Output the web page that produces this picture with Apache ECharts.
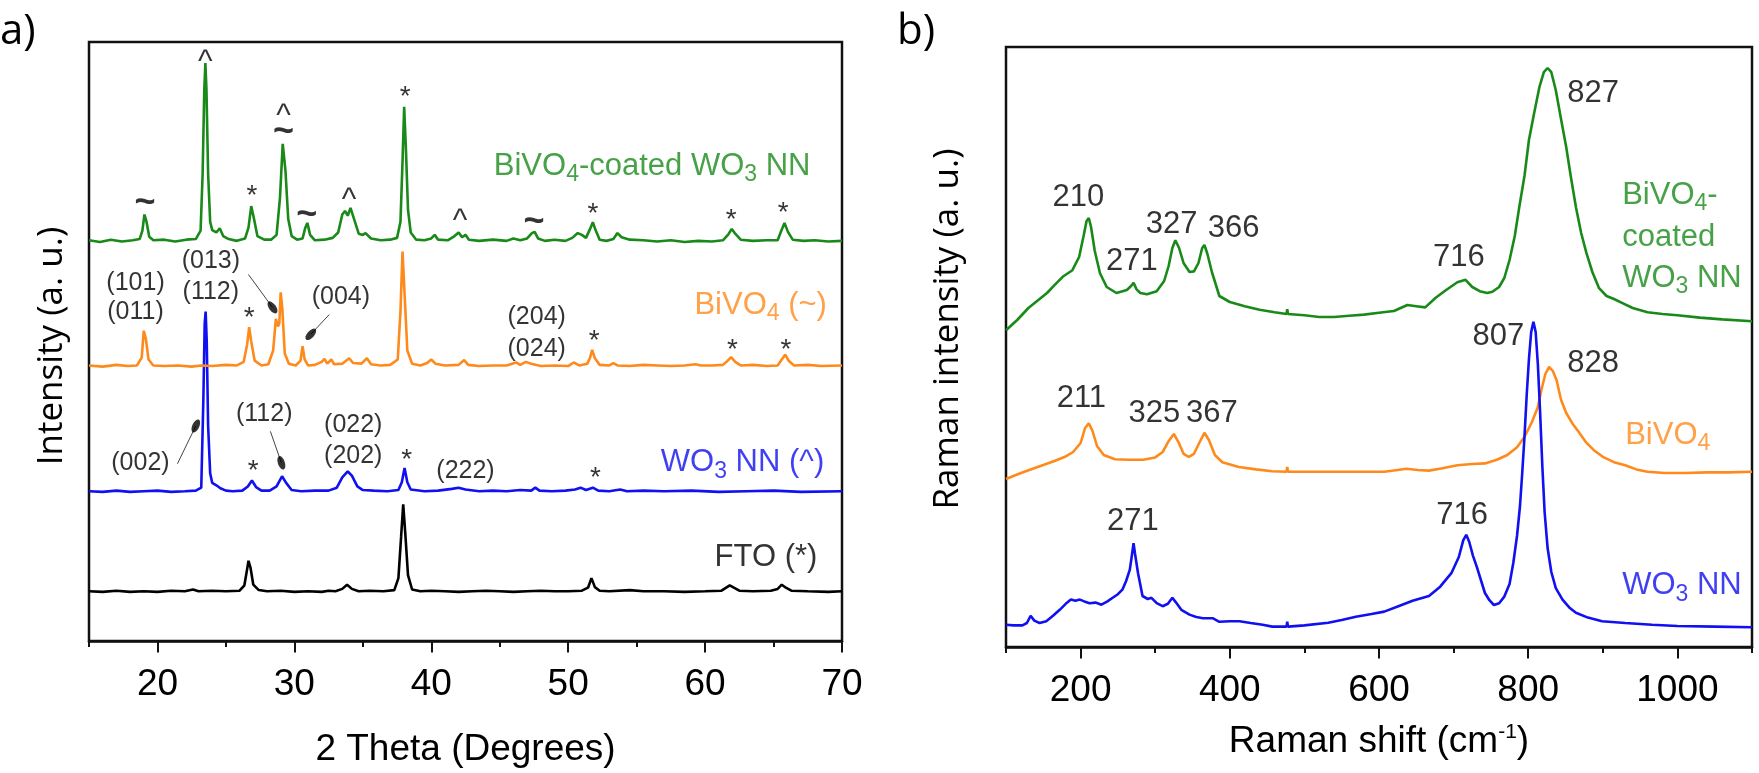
<!DOCTYPE html>
<html>
<head>
<meta charset="utf-8">
<script src="https://cdn.jsdelivr.net/npm/echarts@6/dist/echarts.min.js"></script>
<style>
html, body { margin: 0; padding: 0; background: #fff; }
#main { width: 1759px; height: 773px; }
</style>
</head>
<body>
<div id="main"></div>
<script>
// a) DRX : intensité (u. a.) décalée verticalement, une courbe par échantillon
var xrdCoated = [[15.0,66.9],[15.8,66.6],[16.6,67.0],[17.4,66.7],[18.2,66.9],[18.7,67.1],[18.9,68.5],[19.05,71.2],[19.2,70.0],[19.4,67.5],[19.7,66.9],[20.5,67.0],[21.3,66.7],[22.1,67.0],[22.8,67.1],[23.15,68.5],[23.3,78],[23.42,92],[23.5,96.5],[23.58,92],[23.7,78],[23.85,70],[24.0,68.6],[24.3,68.2],[24.55,68.9],[24.8,67.6],[25.2,67.1],[25.8,66.8],[26.4,67.2],[26.65,69.0],[26.85,72.6],[27.05,70.5],[27.3,67.6],[27.8,67.0],[28.3,67.0],[28.7,67.8],[28.95,74],[29.15,83.0],[29.35,78.5],[29.55,70.5],[29.8,67.6],[30.2,67.0],[30.6,67.2],[30.8,69.0],[30.95,69.8],[31.15,67.8],[31.5,66.9],[32.2,67.0],[32.8,67.3],[33.2,68.2],[33.5,71.2],[33.7,71.8],[33.9,71.0],[34.1,72.3],[34.35,70.5],[34.7,68.0],[35.0,67.8],[35.2,68.1],[35.6,67.2],[36.3,66.9],[37.0,67.0],[37.5,67.3],[37.75,70],[37.9,80],[38.02,89.2],[38.15,82],[38.3,72],[38.5,68.2],[38.9,67.0],[39.5,66.9],[40.0,67.2],[40.25,67.8],[40.5,67.0],[41.2,66.9],[41.7,67.6],[42.0,68.2],[42.25,67.4],[42.5,67.8],[42.75,67.0],[43.5,66.8],[44.5,67.0],[45.5,66.8],[46.0,67.2],[46.5,66.9],[47.0,67.2],[47.35,68.1],[47.55,68.3],[47.8,67.2],[48.3,66.8],[49.0,67.0],[49.8,66.8],[50.3,67.3],[50.7,68.1],[51.0,67.8],[51.3,67.3],[51.6,68.8],[51.8,69.9],[52.0,68.6],[52.3,67.0],[52.8,66.8],[53.3,67.1],[53.6,68.1],[53.9,67.4],[54.5,67.0],[55.5,66.9],[56.5,66.7],[57.5,66.9],[58.5,66.6],[59.5,66.8],[60.5,66.7],[61.3,66.9],[61.7,67.9],[61.95,68.8],[62.2,68.0],[62.6,67.0],[63.5,66.8],[64.5,66.9],[65.3,66.9],[65.55,68.4],[65.8,69.8],[66.05,68.3],[66.4,67.0],[67.2,66.8],[68.0,66.9],[69.0,66.7],[70.0,66.8]];
var xrdBivo4 = [[15.0,46.0],[16.0,45.8],[17.0,46.1],[17.8,45.9],[18.5,46.0],[18.85,47.3],[19.0,51.8],[19.15,50.5],[19.35,47.0],[19.7,46.0],[20.5,45.9],[21.5,46.0],[22.5,45.8],[23.2,46.0],[24.0,45.9],[25.0,46.1],[25.8,46.0],[26.3,46.6],[26.55,49.5],[26.7,52.4],[26.85,50.0],[27.1,46.8],[27.6,46.0],[28.1,46.2],[28.45,48.5],[28.65,53.8],[28.8,52.5],[28.9,53.0],[29.0,58.2],[29.12,55.5],[29.3,48.0],[29.6,46.3],[30.1,46.0],[30.45,46.8],[30.6,49.2],[30.75,47.0],[31.0,46.0],[31.5,46.1],[32.0,46.6],[32.2,47.1],[32.4,46.3],[32.7,47.0],[32.9,46.2],[33.5,46.3],[34.0,47.2],[34.3,46.4],[34.9,46.3],[35.3,47.2],[35.6,46.2],[36.3,46.0],[37.0,46.1],[37.55,47.0],[37.75,55.0],[37.9,65.0],[38.05,58.0],[38.25,48.5],[38.6,46.3],[39.2,46.0],[39.7,46.4],[40.0,47.0],[40.3,46.3],[41.0,46.0],[42.0,46.1],[42.4,46.9],[42.7,46.1],[43.5,45.9],[44.5,46.0],[45.5,46.0],[46.2,46.5],[46.5,46.1],[46.9,46.6],[47.3,46.3],[48.0,45.9],[49.0,46.0],[50.0,45.9],[50.4,46.5],[50.8,46.0],[51.4,46.3],[51.6,47.3],[51.75,48.6],[51.95,47.2],[52.3,46.1],[53.0,46.0],[53.3,46.4],[53.6,46.0],[54.5,45.9],[55.5,46.1],[56.5,46.0],[57.5,45.9],[58.5,46.0],[59.3,46.2],[59.7,46.0],[60.5,46.0],[61.3,46.1],[61.65,46.8],[61.9,47.4],[62.2,46.6],[62.6,46.0],[63.5,46.1],[64.5,45.9],[65.3,46.0],[65.6,47.0],[65.85,47.8],[66.1,46.8],[66.5,46.0],[67.5,46.1],[68.5,45.9],[70.0,46.0]];
var xrdWo3 = [[15.0,25.0],[16.0,24.9],[17.0,25.1],[18.0,24.9],[19.0,25.0],[20.0,25.1],[21.0,24.9],[22.0,25.0],[22.8,25.1],[23.2,25.6],[23.35,40],[23.45,53],[23.52,55.0],[23.6,50],[23.7,36],[23.85,28],[24.0,26.4],[24.3,26.0],[24.6,25.5],[25.0,25.1],[25.5,25.0],[26.2,25.1],[26.6,25.8],[26.9,26.8],[27.2,25.7],[27.6,25.1],[28.2,25.1],[28.7,25.8],[29.1,27.5],[29.4,26.4],[29.8,25.2],[30.5,25.0],[31.5,25.1],[32.5,25.1],[33.1,25.6],[33.5,27.3],[33.9,28.3],[34.2,27.6],[34.6,25.8],[35.0,25.2],[35.8,25.1],[36.8,25.0],[37.6,25.2],[37.85,26.5],[38.05,28.9],[38.25,26.5],[38.5,25.3],[39.5,25.0],[40.5,25.1],[41.5,25.4],[42.0,25.6],[42.5,25.3],[43.5,25.0],[44.5,25.1],[45.5,25.0],[46.5,25.2],[47.3,25.1],[47.6,25.6],[47.9,25.1],[48.8,25.0],[49.8,25.1],[50.5,25.3],[50.9,25.6],[51.3,25.2],[51.8,25.6],[52.2,25.1],[53.0,25.0],[53.8,25.3],[54.3,25.0],[55.5,25.1],[57.0,25.0],[59.0,25.1],[61.0,24.9],[63.0,25.0],[65.0,25.1],[67.0,24.9],[70.0,25.0]];
var xrdFto = [[15.0,8.3],[16.0,8.2],[17.0,8.4],[18.0,8.2],[19.0,8.3],[20.0,8.2],[21.0,8.4],[22.0,8.3],[22.6,8.6],[23.0,8.3],[24.0,8.4],[25.0,8.3],[26.0,8.4],[26.35,9.3],[26.55,12.0],[26.65,13.4],[26.8,12.2],[27.0,9.4],[27.4,8.5],[28.0,8.3],[29.0,8.4],[30.0,8.2],[31.0,8.3],[32.0,8.2],[32.5,8.4],[33.0,8.3],[33.5,8.7],[33.85,9.4],[34.2,8.7],[34.7,8.3],[35.5,8.4],[36.5,8.3],[37.3,8.5],[37.6,10.5],[37.8,17.5],[37.95,22.8],[38.1,18.0],[38.3,11.0],[38.6,8.6],[39.2,8.3],[40.0,8.4],[41.0,8.3],[42.0,8.2],[43.0,8.3],[44.0,8.4],[45.0,8.3],[46.0,8.2],[47.0,8.3],[48.0,8.4],[49.0,8.3],[50.0,8.3],[51.0,8.4],[51.45,8.9],[51.7,10.5],[51.95,9.0],[52.3,8.4],[53.0,8.3],[54.5,8.5],[55.5,8.3],[57.0,8.3],[58.5,8.2],[60.0,8.3],[61.2,8.4],[61.6,9.0],[61.8,9.3],[62.1,8.9],[62.5,8.4],[63.5,8.3],[64.8,8.4],[65.3,8.7],[65.6,9.4],[65.9,8.9],[66.3,8.4],[67.5,8.3],[69.0,8.2],[70.0,8.3]];

// b) Raman : intensité (u. a.) décalée verticalement
var ramanCoated = [[100,52.8],[115,54.5],[130,56.5],[145,58.0],[155,59.0],[165,60.3],[176,61.7],[189,62.8],[198,65.0],[204,68.5],[208,71.0],[211,71.5],[214,70.0],[219,66.0],[226,62.3],[235,60.0],[248,59.0],[262,59.5],[268,60.2],[271,60.7],[275,59.6],[280,59.0],[289,58.8],[302,59.3],[312,61.0],[318,63.5],[323,66.5],[327,67.8],[332,66.5],[338,64.0],[346,62.5],[352,62.6],[358,64.0],[363,66.5],[366,67.0],[370,65.5],[376,62.5],[386,58.5],[400,57.5],[420,56.8],[440,56.2],[460,55.8],[476,55.5],[477,56.3],[478,55.5],[500,55.3],[520,55.0],[540,55.0],[560,55.2],[580,55.4],[600,55.7],[620,56.0],[638,57.0],[650,56.8],[662,56.6],[676,58.2],[690,59.5],[705,60.8],[716,61.2],[725,60.0],[735,59.3],[745,59.0],[752,59.2],[761,60.0],[768,61.5],[775,64.5],[782,68.5],[788,73.3],[795,78.5],[801,84.5],[808,89.0],[815,93.3],[821,95.8],[826,96.5],[831,95.8],[837,92.8],[844,88.0],[851,83.3],[857,78.5],[864,73.3],[871,69.0],[878,65.7],[886,62.5],[895,59.8],[905,58.5],[915,58.0],[925,57.4],[940,56.5],[960,55.8],[980,55.5],[1000,55.3],[1030,54.9],[1060,54.6],[1100,54.3]];
var ramanBivo4 = [[100,28.0],[120,29.0],[149,30.3],[165,31.0],[179,31.7],[190,32.5],[200,34.0],[206,36.5],[211,37.3],[216,36.0],[222,33.5],[231,32.0],[246,31.3],[265,31.2],[284,31.2],[300,31.6],[310,32.5],[318,34.3],[325,35.5],[331,34.2],[338,32.2],[345,31.7],[352,32.2],[359,34.0],[366,35.7],[372,34.5],[380,32.0],[390,30.8],[412,30.0],[435,29.6],[457,29.3],[476,29.2],[477,30.0],[478,29.2],[500,29.2],[532,29.2],[570,29.2],[607,29.2],[625,29.5],[637,29.7],[652,29.5],[667,29.4],[685,29.8],[705,30.3],[725,30.5],[742,30.6],[758,31.2],[772,32.0],[785,33.3],[795,35.0],[805,37.5],[813,40.0],[818,43.0],[823,45.5],[828,46.7],[833,46.0],[838,44.5],[844,41.2],[851,39.0],[859,37.3],[868,35.8],[877,34.2],[888,32.8],[900,31.7],[915,30.8],[930,30.3],[945,29.6],[960,29.2],[983,29.0],[1010,29.0],[1040,29.1],[1070,29.1],[1100,29.2]];
var ramanWo3 = [[100,3.7],[110,3.6],[122,3.6],[128,4.0],[133,5.2],[138,4.4],[145,4.0],[154,4.3],[163,5.2],[172,6.2],[180,7.2],[187,7.9],[193,7.7],[199,7.9],[205,7.6],[212,7.3],[220,7.4],[228,7.05],[236,7.6],[243,8.2],[250,8.8],[256,9.55],[261,11.0],[266,12.9],[269,15.5],[271,17.3],[273,15.5],[277,12.3],[283,8.5],[290,8.0],[295,8.2],[302,7.3],[310,6.8],[317,7.2],[323,8.2],[328,7.4],[335,6.2],[346,5.4],[355,5.0],[364,4.8],[377,4.8],[386,4.2],[400,4.3],[413,4.3],[428,4.0],[444,3.7],[457,3.4],[476,3.4],[477,4.2],[478,3.4],[500,3.6],[532,4.05],[550,4.5],[569,5.05],[590,5.5],[607,5.9],[626,6.8],[645,7.7],[667,8.5],[682,10.05],[697,12.3],[707,15.0],[713,17.8],[717,18.7],[721,17.5],[726,15.2],[731,13.4],[737,11.0],[742,9.0],[748,7.8],[754,7.0],[761,7.3],[768,8.4],[775,10.5],[780,14.0],[785,18.5],[789,23.5],[792,29],[795,35],[798,42],[801,48],[804,52.5],[807,54.2],[810,52.5],[813,47],[816,39],[819,30],[822,22.5],[826,16.5],[831,12.5],[837,9.8],[846,7.9],[855,6.6],[864,5.7],[880,4.9],[899,4.3],[930,4.0],[966,3.7],[1000,3.5],[1050,3.4],[1100,3.3]];

// Graduations
var xrdTicks = [20, 30, 40, 50, 60, 70];
var ramanTicks = [200, 400, 600, 800, 1000];

// Annotations [texte, x, y] en coordonnées des données
var xrdNames = [['{t|BiVO}{s|4}{t|-coated WO}{s|3}{t| NN}', 67.7, 79.2, 'g'], ['{t|BiVO}{s|4}{t| (~)}', 68.9, 56.0, 'o'], ['{t|WO}{s|3}{t| NN (^)}', 68.7, 29.75, 'b'], ['{t|FTO (*)}', 68.2, 13.9, 'k']];
var xrdMarksCoated = [['~',19.1,73.1],['^',23.5,97.5],['*',26.9,75.2],['^',29.2,88.4],['~',29.2,85.0],['~',30.9,71.1],['^',34.0,74.4],['*',38.1,91.7],['^',42.1,70.9],['~',47.5,69.9],['*',51.8,72.2],['*',61.9,71.2],['*',65.7,72.4]];
var xrdMarksBivo4 = [['*',26.7,54.9],['*',51.9,51.1],['*',62.0,49.6],['*',65.9,49.6]];
var xrdMarksWo3 = [['*',27.0,29.3],['*',38.2,31.2],['*',52.0,28.1]];
var xrdHkl = [['(101)',18.4,59.8],['(011)',18.4,54.9],['(013)',23.9,63.5],['(112)',23.9,58.2],['(004)',33.4,57.4],['(204)',47.7,54.0],['(024)',47.7,48.8],['(002)',18.76,29.75],['(112)',27.8,37.85],['(022)',34.3,36.0],['(202)',34.3,30.9],['(222)',42.5,28.4]];
var xrdPointers = [[[26.64,61.2],[28.4,55.7]], [[32.55,54.5],[31.2,51.2]], [[21.46,29.6],[22.8,35.9]], [[28.25,35.0],[29.05,29.75]]];
var xrdPointerTilt = [36, -42, -25, 19];

var ramanPeaks = [['210',197,75.0],['271',268.6,64.2],['327',322,70.5],['366',405,69.7],['716',707,65.0],['827',887,92.3],['211',201,41.5],['325',299,39.0],['367',376,39.0],['828',887,47.3],['807',760,51.7],['271',270,21.0],['716',711.5,22.0]];
var ramanNames = [['{t|BiVO}{s|4}{t|-}', 926, 75.3, 'g'], ['{t|coated}', 926, 68.2, 'g'], ['{t|WO}{s|3}{t| NN}', 926, 61.5, 'g'], ['{t|BiVO}{s|4}', 930, 35.3, 'o'], ['{t|WO}{s|3}{t| NN}', 926, 10.2, 'b']];

var COLORS = {g: '#198a19', o: '#ff8a1c', b: '#1010f0', k: '#000000'};
var FONT = '"Liberation Sans", Arial, sans-serif';
var INK = '#000';
var MAJOR_TICK = 1.9;   // longueur des graduations principales, en unités de l'axe y (0-100)

function richSub(color, size) {
	return {
		t: {fontFamily: FONT, fontSize: size, color: color, lineHeight: 40},
		s: {fontFamily: FONT, fontSize: Math.round(size * 0.75), color: color, lineHeight: 18, verticalAlign: 'bottom'}
	};
}

// Série "texte seul" : un point invisible porteur d'une étiquette
function textSeries(xi, yi, items, labelOpt) {
	return {
		type: 'scatter', xAxisIndex: xi, yAxisIndex: yi, symbolSize: 1, silent: true, z: 6,
		itemStyle: {color: 'transparent'},
		data: items,
		label: Object.assign({show: true, position: 'inside', formatter: function(p) { return p.name; }}, labelOpt)
	};
}

function nameItems(list, align) {
	return list.map(function(n) {
		return {name: n[0], value: [n[1], n[2]], label: {align: align, rich: richSub(COLORS[n[3]], 31)}};
	});
}

function markItems(list, color) {
	return list.map(function(m) {
		var st = {color: color, fontFamily: FONT};
		if (m[0] === '~') { st.fontSize = 36; st.fontWeight = 'bold'; st.offset = [0, 0]; }
		else if (m[0] === '^') { st.fontSize = 31; st.offset = [0, 5]; }
		else { st.fontSize = 28; st.offset = [0, 6]; }
		return {name: m[0], value: [m[1], m[2]], label: st};
	});
}

function lineSeries(xi, yi, data, color) {
	return {type: 'line', xAxisIndex: xi, yAxisIndex: yi, data: data, showSymbol: false, symbol: 'none',
		lineStyle: {color: color, width: 2.6}, itemStyle: {color: color}, z: 3};
}

// Graduations principales (plus longues) tracées sous l'axe
function majorTicks(xi, yi, values) {
	return {
		type: 'lines', coordinateSystem: 'cartesian2d', xAxisIndex: xi, yAxisIndex: yi, silent: true,
		clip: false, z: 10, lineStyle: {color: '#111', width: 2, opacity: 1},
		data: values.map(function(v) { return {coords: [[v, 0], [v, -MAJOR_TICK]]}; })
	};
}

function mainX(gi, min, max, step, labels, name, gap, nameStyle) {
	return {
		type: 'value', gridIndex: gi, min: min, max: max, interval: step, position: 'bottom',
		axisLine: {show: true, onZero: false, lineStyle: {color: '#111', width: 2.5}},
		axisTick: {show: true, inside: false, length: 6, lineStyle: {color: '#111', width: 2}},
		axisLabel: {show: true, customValues: labels, margin: 25, fontFamily: FONT, fontSize: 37, color: INK,
			formatter: function(v) { return String(v); }},
		splitLine: {show: false},
		name: name, nameLocation: 'middle', nameGap: gap, nameTextStyle: nameStyle
	};
}

function hiddenY(gi) {
	return {type: 'value', gridIndex: gi, min: 0, max: 100,
		axisLine: {show: false}, axisTick: {show: false}, axisLabel: {show: false}, splitLine: {show: false}};
}

var myChart = echarts.init(document.getElementById('main'), null, {renderer: 'canvas'});

var series = [
	lineSeries(0, 0, xrdFto, COLORS.k),
	lineSeries(0, 0, xrdWo3, COLORS.b),
	lineSeries(0, 0, xrdBivo4, COLORS.o),
	lineSeries(0, 0, xrdCoated, COLORS.g),
	lineSeries(1, 1, ramanBivo4, COLORS.o),
	lineSeries(1, 1, ramanCoated, COLORS.g),
	lineSeries(1, 1, ramanWo3, COLORS.b),
	majorTicks(0, 0, xrdTicks),
	majorTicks(1, 1, ramanTicks),
	// traits de repère des indices (hkl)
	{
		type: 'lines', coordinateSystem: 'cartesian2d', xAxisIndex: 0, yAxisIndex: 0, silent: true, z: 4,
		lineStyle: {color: '#444', width: 1, opacity: 1},
		data: xrdPointers.map(function(p) { return {coords: p}; })
	},
	{
		type: 'scatter', xAxisIndex: 0, yAxisIndex: 0, silent: true, z: 5,
		symbol: 'circle', symbolSize: [7, 14], itemStyle: {color: '#000'},
		data: xrdPointers.map(function(p, i) { return {value: p[1], symbolRotate: xrdPointerTilt[i]}; })
	},
	textSeries(0, 0, nameItems(xrdNames, 'right'), {}),
	textSeries(0, 0, markItems(xrdMarksCoated, INK), {}),
	textSeries(0, 0, markItems(xrdMarksBivo4, INK), {}),
	textSeries(0, 0, markItems(xrdMarksWo3, INK), {}),
	textSeries(0, 0, xrdHkl.map(function(h) { return {name: h[0], value: [h[1], h[2]]}; }),
		{fontFamily: FONT, fontSize: 25, color: INK}),
	textSeries(1, 1, ramanPeaks.map(function(h) { return {name: h[0], value: [h[1], h[2]]}; }),
		{fontFamily: FONT, fontSize: 31, color: INK}),
	textSeries(1, 1, nameItems(ramanNames, 'left'), {})
];

var option = {
	animation: false,
	backgroundColor: '#fff',
	grid: [
		{left: 89, top: 42, width: 753, height: 605, show: true, borderColor: '#111', borderWidth: 2.5, backgroundColor: 'transparent'},
		{left: 1006, top: 47, width: 746, height: 600, show: true, borderColor: '#111', borderWidth: 2.5, backgroundColor: 'transparent'}
	],
	xAxis: [
		mainX(0, 15, 70, 5, xrdTicks, '2 Theta (Degrees)', 90, {fontFamily: FONT, fontSize: 37, color: INK}),
		mainX(1, 100, 1100, 100, ramanTicks, '{t|Raman shift (cm}{u|-1}{t|)}', 75, {
			rich: {
				t: {fontFamily: FONT, fontSize: 37, color: INK, lineHeight: 40},
				u: {fontFamily: FONT, fontSize: 21, color: INK, lineHeight: 24, verticalAlign: 'top'}
			}
		})
	],
	yAxis: [hiddenY(0), hiddenY(1)],
	graphic: [
		{type: 'text', x: 0, y: 32, style: {text: 'a)', fontFamily: '"Open Sans"', fontSize: 42, fill: INK, textVerticalAlign: 'middle', verticalAlign: 'middle'}},
		{type: 'text', x: 897, y: 32, style: {text: 'b)', fontFamily: '"Open Sans"', fontSize: 42, fill: INK, textVerticalAlign: 'middle', verticalAlign: 'middle'}},
		{type: 'text', x: 52, y: 346, rotation: Math.PI / 2, style: {text: 'Intensity (a. u.)', fontFamily: '"Open Sans"', fontSize: 35, fill: INK, textAlign: 'center', align: 'center', textVerticalAlign: 'middle', verticalAlign: 'middle'}},
		{type: 'text', x: 948, y: 329, rotation: Math.PI / 2, style: {text: 'Raman intensity (a. u.)', fontFamily: '"Open Sans"', fontSize: 35, fill: INK, textAlign: 'center', align: 'center', textVerticalAlign: 'middle', verticalAlign: 'middle'}}
	],
	series: series
};

myChart.setOption(option);
</script>
</body>
</html>
